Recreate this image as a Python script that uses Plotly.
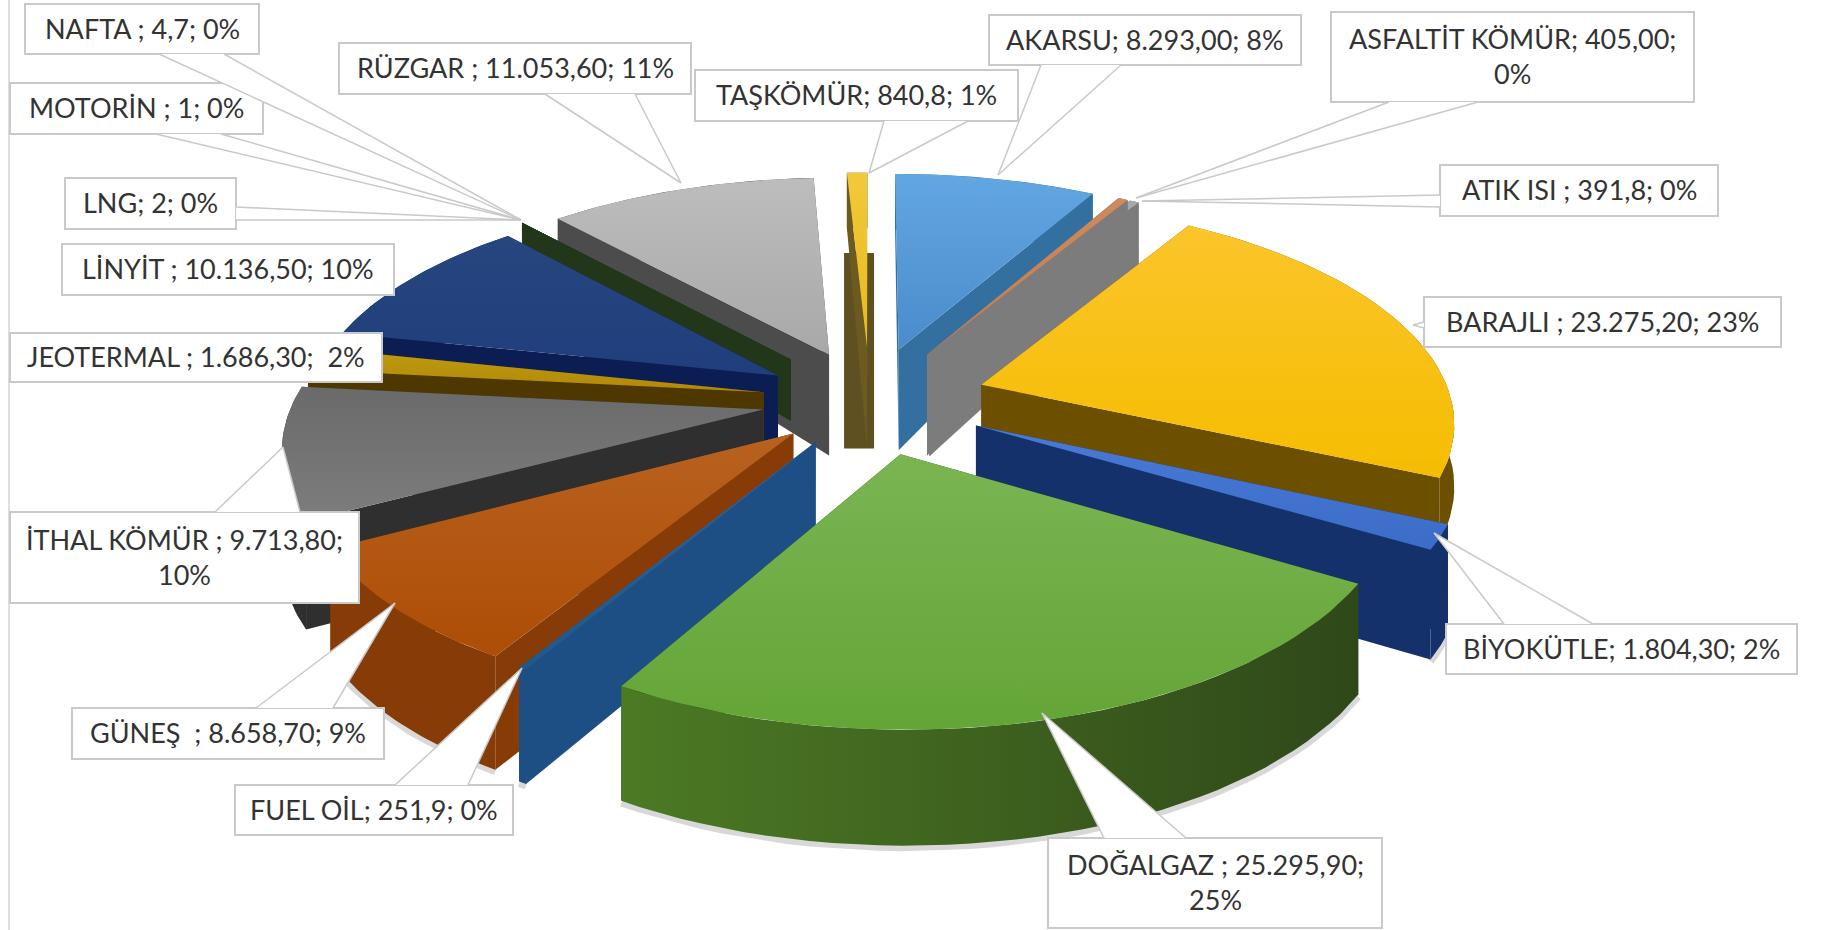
import numpy as np
import plotly.graph_objects as go

# ---------- data ----------
names = ["AKARSU", "ASFALTİT KÖMÜR", "ATIK ISI", "BARAJLI", "BİYOKÜTLE", "DOĞALGAZ", "FUEL OİL", "GÜNEŞ",
         "İTHAL KÖMÜR", "JEOTERMAL", "LİNYİT", "LNG", "MOTORİN", "NAFTA", "RÜZGAR", "TAŞKÖMÜR"]
values = [8293.0, 405.0, 391.8, 23275.2, 1804.3, 25295.9, 251.9, 8658.7,
          9713.8, 1686.3, 10136.5, 2, 1, 4.7, 11053.6, 840.8]
label_texts = ["AKARSU; 8.293,00; 8%", "ASFALTİT KÖMÜR; 405,00;<br>0%", "ATIK ISI ; 391,8; 0%",
               "BARAJLI ; 23.275,20; 23%", "BİYOKÜTLE; 1.804,30; 2%", "DOĞALGAZ ; 25.295,90;<br>25%",
               "FUEL OİL; 251,9; 0%", "GÜNEŞ  ; 8.658,70; 9%", "İTHAL KÖMÜR ; 9.713,80;<br>10%",
               "JEOTERMAL ; 1.686,30;  2%", "LİNYİT ; 10.136,50; 10%", "LNG; 2; 0%", "MOTORİN ; 1; 0%",
               "NAFTA ; 4,7; 0%", "RÜZGAR ; 11.053,60; 11%", "TAŞKÖMÜR; 840,8; 1%"]

# ---------- styles ----------
top_light = ["#62a6e2", "#d08a5c", "#a8a8a8", "#fbc52c", "#4a7ad6", "#7ab552", "#2a649a", "#b8621f",
             "#6a6a6a", "#c09a10", "#27467f", "#2a4018", "#2a4018", "#2a4018", "#bdbdbd", "#f2c93a"]
top_dark = ["#4a8ccb", "#c87a4a", "#8c8c8c", "#f5bd00", "#3a6cc8", "#64a537", "#20588c", "#ad4d06",
            "#7d7d7d", "#b08a08", "#203e7c", "#2a4018", "#2a4018", "#2a4018", "#a8a8a8", "#e8b820"]
wall_color = ["#33709f", "#7c7c7c", "#7c7c7c", "#6c5000", "#15316c", "#30491a", "#1d4f85", "#873b06",
              "#2f2f2f", "#4e3800", "#0c1d54", "#22361a", "#22361a", "#22361a", "#4c4c4c", "#6c5a20"]
pull = [.25, .25, .25, .25, .25, .25, .22, .22, .23, .23, .23, .26, .26, .26, .235, .25]
wall_scale = [1, 1, 1, .6, 1, 1, 1, 1, 1, 1, 1, .6, .6, .6, 1, 1]
draw_order = [15, 0, 2, 1, 14, 13, 12, 11, 10, 9, 8, 3, 4, 7, 6, 5]
shadowed = {4, 5, 6, 7}

CX, CY, RX, RY, PERSP = 870, 400, 470, 216, 0.15


def project(X, Y):
    s = 1 / (1 - PERSP * Y)
    return CX + RX * X * s, CY + RY * Y * s


def wall_h(Y):
    return np.interp(Y, [-1.25, -0.3, 1.25], [55, 100, 116])


fractions = np.array(values) / sum(values)
edges = np.concatenate([[0], np.cumsum(fractions)]) * 2 * np.pi
fig = go.Figure()


def add_poly(xs, ys, color, name, grad=None, gtype="vertical"):
    kw = dict(fillcolor=color)
    if grad is not None:
        kw = dict(fillgradient=dict(type=gtype, colorscale=[[0, grad[0]], [1, grad[1]]]))
    fig.add_trace(go.Scatter(x=list(xs), y=list(ys), mode="lines", fill="toself", line=dict(width=0),
                             hoverinfo="text", text=name, showlegend=False, **kw))


for i in draw_order:
    a0, a1 = edges[i], edges[i + 1]
    mid = (a0 + a1) / 2
    ox, oy = pull[i] * np.sin(mid), -pull[i] * np.cos(mid)
    th = np.linspace(a0, a1, 40)
    rimX, rimY = ox + np.sin(th), oy - np.cos(th)
    rx, ry = project(rimX, rimY)
    ax, ay = project(np.array([ox]), np.array([oy]))
    k = wall_scale[i]
    rb = ry + wall_h(rimY) * k
    ab = ay + wall_h(np.array([oy])) * k
    wc = wall_color[i]
    if i in shadowed:
        fig.add_trace(go.Scatter(x=list(rx), y=list(rb + 2), mode="lines", hoverinfo="skip", showlegend=False,
                                 line=dict(color="rgba(60,60,60,0.2)", width=7)))
    if names[i] == "TAŞKÖMÜR":
        fig.add_trace(go.Scatter(x=[ax[0] - 8, ax[0] - 8], y=[ay[0] - 95, ab[0]], mode="lines", hoverinfo="skip",
                                 showlegend=False, line=dict(color="#5e5020", width=30)))
    # cut walls
    add_poly([ax[0], rx[0], rx[0], ax[0]], [ay[0], ry[0], rb[0], ab[0]], wc, names[i])
    add_poly([ax[0], rx[-1], rx[-1], ax[0]], [ay[0], ry[-1], rb[-1], ab[0]], wc, names[i])
    # rim wall
    if names[i] == "DOĞALGAZ":
        add_poly(np.r_[rx, rx[::-1]], np.r_[ry, rb[::-1]], wc, names[i], grad=("#4c7a24", "#2f4819"),
                 gtype="horizontal")
    else:
        add_poly(np.r_[rx, rx[::-1]], np.r_[ry, rb[::-1]], wc, names[i])
    # top face (gradient runs top-down on the reversed y axis, so dark comes first)
    add_poly(np.r_[ax, rx], np.r_[ay, ry], None, names[i], grad=(top_dark[i], top_light[i]))

# ---------- label boxes & callouts ----------
boxes = {
    0: (989, 15, 1301, 65), 1: (1331, 12, 1694, 102), 2: (1440, 165, 1718, 216), 3: (1424, 297, 1781, 347),
    4: (1446, 624, 1797, 674), 5: (1048, 838, 1382, 928), 6: (235, 785, 513, 835), 7: (72, 708, 384, 759),
    8: (10, 512, 359, 603), 9: (10, 333, 382, 382), 10: (62, 244, 394, 295), 11: (65, 178, 236, 229),
    12: (10, 83, 263, 134), 13: (25, 4, 259, 54), 14: (339, 43, 691, 94), 15: (695, 70, 1018, 121),
}
callouts = {
    0: ((1041, 65), (1121, 65), (998, 175)), 1: ((1389, 102), (1478, 102), (1136, 198)),
    2: ((1440, 195), (1440, 207), (1142, 201)), 3: ((1424, 322), (1424, 328), (1413, 325)),
    4: ((1504, 624), (1593, 624), (1434, 533)), 5: ((1104, 838), (1186, 838), (1042, 713)),
    6: ((395, 785), (468, 785), (522, 668)), 7: ((256, 708), (333, 708), (395, 603)),
    8: ((215, 512), (300, 512), (283, 447)), 11: ((236, 207), (236, 220), (521, 220)),
    12: ((156, 134), (221, 134), (521, 220)), 13: ((159, 54), (224, 54), (521, 220)),
    14: ((545, 94), (635, 94), (681, 183)), 15: ((884, 121), (968, 121), (869, 173)),
}
BORDER = "#c9c9c9"
shapes = [dict(type="line", x0=9, x1=9, y0=0, y1=930, line=dict(color="#d4d4d4", width=1.5))]
annotations = []
for i, (x0, y0, x1, y1) in boxes.items():
    shapes.append(dict(type="rect", x0=x0, y0=y0, x1=x1, y1=y1, fillcolor="white",
                       line=dict(color=BORDER, width=2)))
    annotations.append(dict(x=(x0 + x1) / 2, y=(y0 + y1) / 2 - 1, text=label_texts[i], showarrow=False,
                            xanchor="center", yanchor="middle", align="center",
                            font=dict(family="Lato", size=27, color="#333333")))
for i, (p, q, t) in callouts.items():
    shapes.append(dict(type="path", path=f"M {p[0]} {p[1]} L {t[0]} {t[1]} L {q[0]} {q[1]} Z",
                       fillcolor="white", line=dict(width=0)))
    shapes.append(dict(type="line", x0=p[0], y0=p[1], x1=t[0], y1=t[1], line=dict(color=BORDER, width=1.5)))
    shapes.append(dict(type="line", x0=q[0], y0=q[1], x1=t[0], y1=t[1], line=dict(color=BORDER, width=1.5)))

fig.update_layout(
    width=1848, height=930, margin=dict(l=0, r=0, t=0, b=0),
    paper_bgcolor="white", plot_bgcolor="white", showlegend=False,
    xaxis=dict(range=[0, 1848], visible=False, fixedrange=True),
    yaxis=dict(range=[930, 0], visible=False, fixedrange=True),
    shapes=shapes, annotations=annotations,
)
fig.write_html("out.html", config={"displayModeBar": False},
               post_script="document.body.style.margin='0';document.body.style.overflow='hidden';")
